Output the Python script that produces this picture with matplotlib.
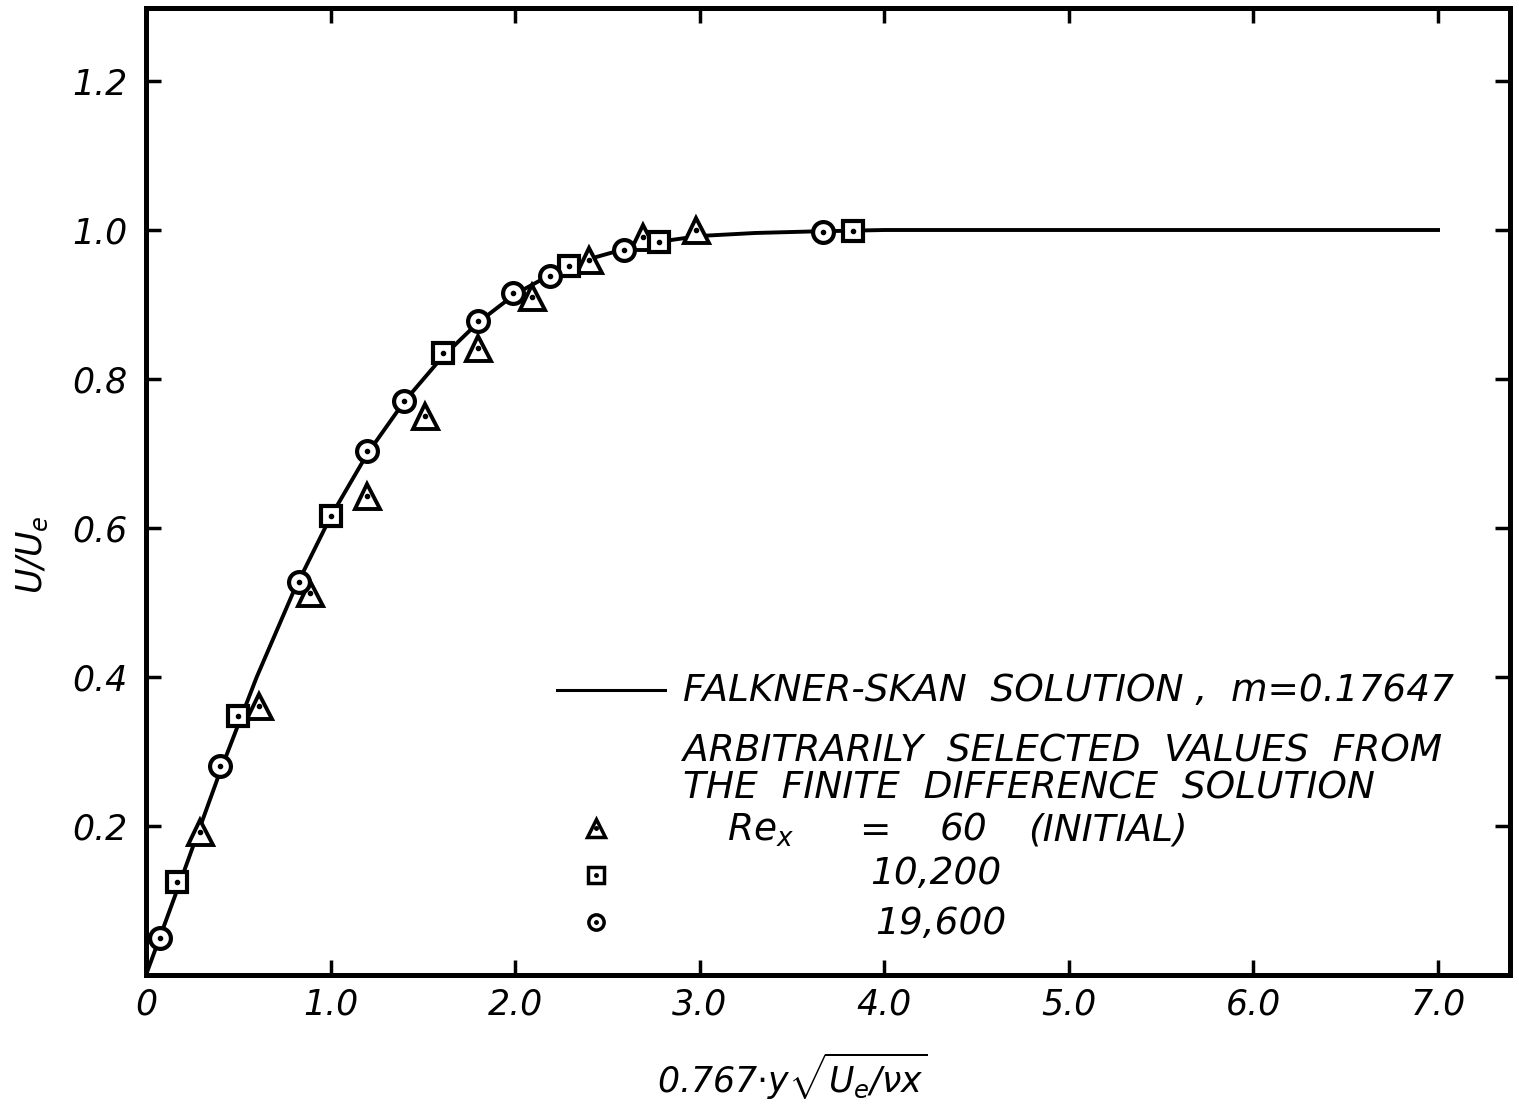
import numpy as np
import matplotlib
matplotlib.use('Agg')
import matplotlib.pyplot as plt

# Falkner-Skan solution curve
eta_fs = [0.0, 0.2, 0.4, 0.6, 0.8, 1.0, 1.2, 1.4, 1.6, 1.8, 2.0, 2.2, 2.4,
          2.6, 2.8, 3.0, 3.3, 3.6, 4.0, 5.0, 7.0]
u_fs = [0.0, 0.135, 0.272, 0.400, 0.515, 0.615, 0.700, 0.770, 0.828,
        0.876, 0.914, 0.941, 0.961, 0.975, 0.985, 0.992, 0.996, 0.998, 1.0, 1.0, 1.0]

# finite difference points, Re_x = 60 (initial)
eta_60 = [0.29, 0.61, 0.89, 1.20, 1.51, 1.80, 2.09, 2.40, 2.69, 2.98]
u_60 = [0.192, 0.361, 0.513, 0.643, 0.750, 0.842, 0.910, 0.960, 0.991, 1.000]

# Re_x = 10,200
eta_10200 = [0.17, 0.50, 1.00, 1.61, 2.29, 2.78, 3.83]
u_10200 = [0.125, 0.348, 0.616, 0.835, 0.952, 0.984, 0.999]

# Re_x = 19,600
eta_19600 = [0.076, 0.40, 0.83, 1.20, 1.40, 1.80, 1.99, 2.19, 2.59, 3.67]
u_19600 = [0.050, 0.280, 0.527, 0.703, 0.770, 0.878, 0.915, 0.938, 0.973, 0.997]

xticks = [0, 1, 2, 3, 4, 5, 6, 7]
xticklabels = ['0', '1.0', '2.0', '3.0', '4.0', '5.0', '6.0', '7.0']
yticks = [0.2, 0.4, 0.6, 0.8, 1.0, 1.2]
yticklabels = ['0.2', '0.4', '0.6', '0.8', '1.0', '1.2']

plt.rcParams['font.family'] = ['DejaVu Sans']
plt.rcParams['font.style'] = 'italic'
plt.rcParams['mathtext.fontset'] = 'custom'
plt.rcParams['mathtext.rm'] = 'DejaVu Sans:italic'
plt.rcParams['mathtext.it'] = 'DejaVu Sans:italic'

fs = 25
lfs = 27

fig = plt.figure(figsize=(15.19, 11.11), dpi=100)
ax = fig.add_axes([0.0961, 0.1224, 0.898, 0.8704])

ax.plot(eta_fs, u_fs, color='black', lw=2.8, zorder=2)


def dotted_marker(x, y, m, ms, mew, dot):
    ax.plot(x, y, ls='none', marker=m, ms=ms, mfc='white', mec='black',
            mew=mew, zorder=3)
    ax.plot(x, y, ls='none', marker='o', ms=dot, mfc='black', mec='black',
            zorder=4)


dotted_marker(eta_60, u_60, '^', 18, 2.8, 3)
dotted_marker(eta_10200, u_10200, 's', 14, 3.0, 3)
dotted_marker(eta_19600, u_19600, 'o', 15, 3.0, 3)

ax.set_xlim(0, 7.39)
ax.set_ylim(0, 1.298)
ax.set_xticks(xticks)
ax.set_xticklabels(xticklabels)
ax.set_yticks(yticks)
ax.set_yticklabels(yticklabels)
ax.tick_params(direction='in', length=11, width=2.5, labelsize=fs,
               top=True, right=True)
ax.tick_params(axis='x', pad=9)
ax.tick_params(axis='y', pad=13)
for s in ax.spines.values():
    s.set_linewidth(3.6)

ax.set_xlabel(r'0.767$\cdot y\sqrt{U_e/\nu x}$', fontsize=fs)
ax.xaxis.set_label_coords(0.474, -0.078)
ax.set_ylabel(r'$U/U_e$', fontsize=fs)
ax.yaxis.set_label_coords(-0.07, 0.435)

# legend block
tA = ax.transAxes
ax.plot([0.301, 0.3805], [0.2947, 0.2947], color='black', lw=2.2, transform=tA)
ax.text(0.3937, 0.2833, 'FALKNER-SKAN  SOLUTION ,  m=0.17647', fontsize=lfs,
        transform=tA, va='baseline')
ax.text(0.3937, 0.2213, 'ARBITRARILY  SELECTED  VALUES  FROM', fontsize=lfs,
        transform=tA, va='baseline')
ax.text(0.3937, 0.1830, 'THE  FINITE  DIFFERENCE  SOLUTION', fontsize=lfs,
        transform=tA, va='baseline')

key_y = [0.152, 0.1034, 0.0548]
key_m = ['^', 's', 'o']
key_ms = [13, 11, 11]
for ky, km, kms in zip(key_y, key_m, key_ms):
    ax.plot([0.3299], [ky], ls='none', marker=km, ms=kms, mfc='white',
            mec='black', mew=2.5, transform=tA, clip_on=False)
    ax.plot([0.3299], [ky], ls='none', marker='o', ms=2.5, color='black',
            transform=tA, clip_on=False)

ax.text(0.426, 0.1386, r'$Re_x$', fontsize=lfs, transform=tA, va='baseline')
ax.text(0.5345, 0.1386, '=', fontsize=lfs, transform=tA, va='baseline',
        ha='center')
ax.text(0.582, 0.1386, '60', fontsize=lfs, transform=tA, va='baseline')
ax.text(0.6466, 0.1386, '(INITIAL)', fontsize=lfs, transform=tA, va='baseline')
ax.text(0.5308, 0.0941, '10,200', fontsize=lfs, transform=tA, va='baseline')
ax.text(0.5345, 0.0424, '19,600', fontsize=lfs, transform=tA, va='baseline')

fig.savefig('out.png', dpi=100, facecolor='white')
